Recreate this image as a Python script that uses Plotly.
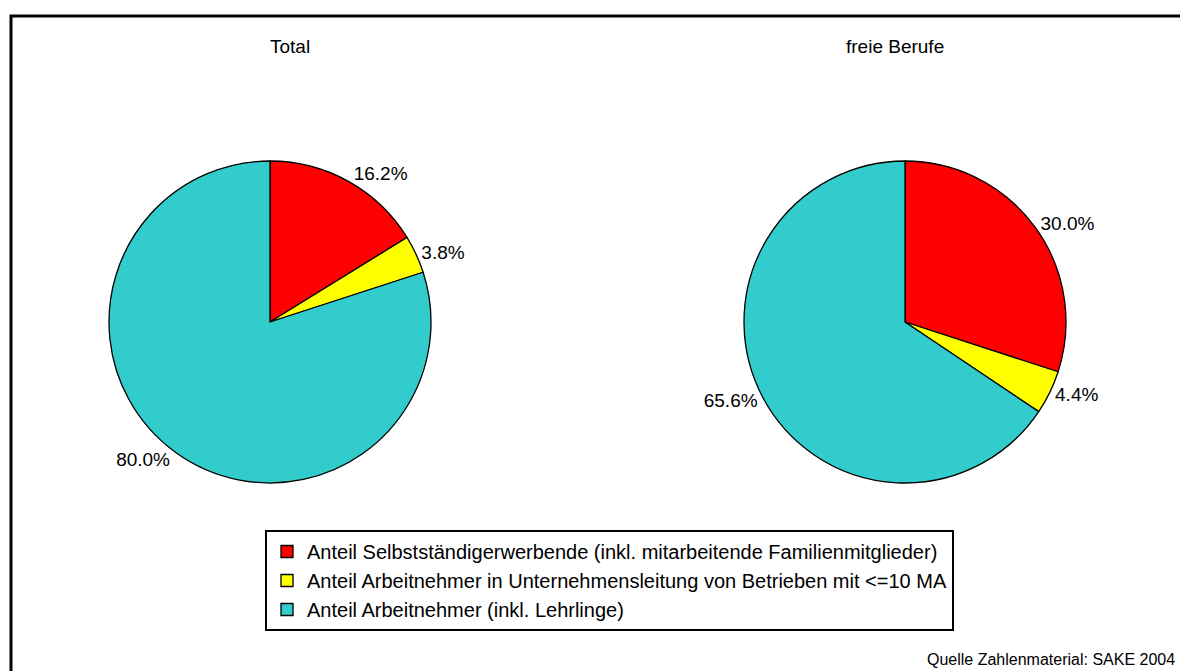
import plotly.graph_objects as go

categories = [
    "Anteil Selbstständigerwerbende (inkl. mitarbeitende Familienmitglieder)",
    "Anteil Arbeitnehmer in Unternehmensleitung von Betrieben mit <=10 MA",
    "Anteil Arbeitnehmer (inkl. Lehrlinge)",
]
total_values = [16.2, 3.8, 80.0]
freie_values = [30.0, 4.4, 65.6]
panel_titles = ["Total", "freie Berufe"]
colors = ["#FF0000", "#FFFF00", "#33CCCC"]

W, H = 1172, 663
OFF = 8  # page body margin
FONT = "Arial, Liberation Sans, sans-serif"


def px(X):
    return (X - OFF) / W


def py(Y):
    return 1 - (Y - OFF) / H


def dom(cx, cy, r):
    return dict(x=[px(cx - r), px(cx + r)], y=[py(cy + r), py(cy - r)])


fig = go.Figure()
for vals, (cx, cy), show in [(total_values, (270, 322), True), (freie_values, (905, 322), False)]:
    fig.add_trace(go.Pie(
        labels=categories, values=vals, sort=False, direction="clockwise", rotation=0,
        marker=dict(colors=colors, line=dict(color="black", width=1.3)),
        texttemplate="%{value:.1f}%", textposition="outside",
        textfont=dict(size=19, color="black", family=FONT),
        domain=dom(cx, cy, 161), showlegend=show, hoverinfo="label+percent",
    ))

for t, X in zip(panel_titles, [290, 895]):
    fig.add_annotation(text=t, x=px(X), y=py(46), xref="paper", yref="paper",
                       xanchor="center", yanchor="middle",
                       showarrow=False, font=dict(size=19, family=FONT, color="black"))
fig.add_annotation(text="Quelle Zahlenmaterial: SAKE 2004", x=px(1177), y=py(670),
                   xref="paper", yref="paper", xanchor="right", yanchor="bottom",
                   showarrow=False, font=dict(size=16, family=FONT, color="black"))

fig.add_shape(type="rect", xref="paper", yref="paper", x0=px(11), x1=1.05, y0=-0.05, y1=py(16),
              line=dict(color="black", width=3), fillcolor="rgba(0,0,0,0)")

fig.update_layout(
    width=W, height=H, margin=dict(l=0, r=0, t=0, b=0),
    paper_bgcolor="white", plot_bgcolor="white",
    font=dict(family=FONT, color="black"),
    legend=dict(x=px(265), y=py(530), xanchor="left", yanchor="top",
                bordercolor="black", borderwidth=2, bgcolor="white", itemwidth=30,
                font=dict(size=20, family=FONT, color="black"), traceorder="normal"),
)

fig.write_html("out.html")
